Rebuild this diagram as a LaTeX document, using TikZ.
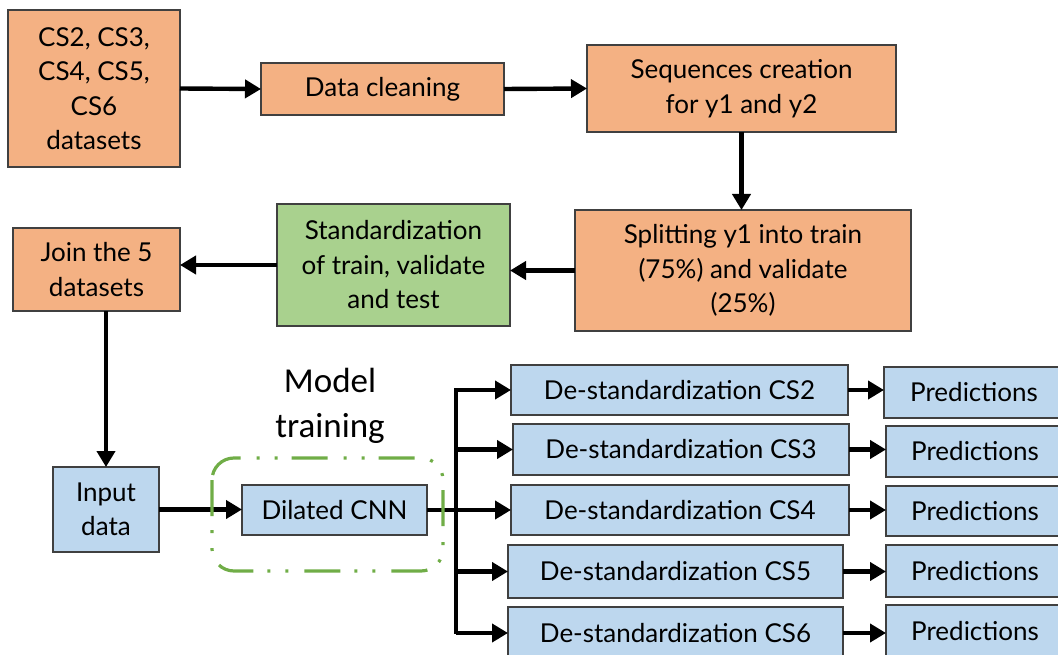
\documentclass[tikz,border=0pt]{standalone}
\usepackage{fontspec}
\setmainfont{Lato}
\newfontfamily\titlefont{Carlito}
\usetikzlibrary{arrows.meta}

\definecolor{boxorange}{HTML}{F4B183}
\definecolor{boxblue}{HTML}{BDD7EE}
\definecolor{boxgreen}{HTML}{A9D18E}
\definecolor{groupgreen}{HTML}{70AD47}

\tikzset{
  basebox/.style={draw=black!75, line width=1.3pt, inner sep=0pt, outer sep=0pt,
    align=center, anchor=north west},
  obox/.style={basebox, fill=boxorange},
  bbox/.style={basebox, fill=boxblue},
  gbox/.style={basebox, fill=boxgreen},
  link/.style={line width=4.4pt, draw=black},
  arr/.style={link, -{Triangle[length=16pt,width=18pt]}},
  groupframe/.style={draw=groupgreen, line width=3.2pt, rounded corners=22pt,
    dash pattern=on 36pt off 14pt on 3pt off 15pt on 3pt off 16pt},
}

\begin{document}
\begin{tikzpicture}[x=1pt, y=-1pt, font=\fontsize{26}{34.5}\selectfont]
\useasboundingbox (0,0) rectangle (1058,655);

% preprocessing chain
\node[obox, minimum width=172, minimum height=157] (cs) at (8,10)
  {CS2, CS3,\\CS4, CS5,\\CS6\\datasets};
\node[obox, minimum width=243, minimum height=52] (clean) at (261,63) {Data cleaning};
\node[obox, minimum width=309, minimum height=87] (seq) at (587,45)
  {Sequences creation\\for y1 and y2};
\node[obox, minimum width=336, minimum height=121] (split) at (575,210)
  {Splitting y1 into train\\(75\%) and validate\\(25\%)};
\node[gbox, minimum width=233, minimum height=122] (std) at (277,204)
  {Standardization\\of train, validate\\and test};
\node[obox, minimum width=167, minimum height=83] (join) at (13,228)
  {Join the 5\\datasets};

% model
\node[bbox, minimum width=106, minimum height=85] (input) at (53,467) {Input\\data};
\node[bbox, minimum width=185, minimum height=50] (cnn) at (242,485) {Dilated CNN};
\node[font=\titlefont\fontsize{35}{45}\selectfont, align=center] (mt) at (330,406)
  {Model\\training};

% outputs
\node[bbox, minimum width=337, minimum height=50] (ds2) at (511,365) {De-standardization CS2};
\node[bbox, minimum width=336, minimum height=51] (ds3) at (513,424) {De-standardization CS3};
\node[bbox, minimum width=338, minimum height=50] (ds4) at (511,485) {De-standardization CS4};
\node[bbox, minimum width=335, minimum height=53] (ds5) at (508,545) {De-standardization CS5};
\node[bbox, minimum width=335, minimum height=52] (ds6) at (508,607) {De-standardization CS6};

\node[bbox, minimum width=180, minimum height=51] (pr2) at (884,367) {Predictions};
\node[bbox, minimum width=178, minimum height=51] (pr3) at (886,426) {Predictions};
\node[bbox, minimum width=178, minimum height=50] (pr4) at (886,486) {Predictions};
\node[bbox, minimum width=178, minimum height=52] (pr5) at (886,545) {Predictions};
\node[bbox, minimum width=178, minimum height=52] (pr6) at (886,605) {Predictions};

% connectors of the preprocessing chain
\draw[arr] (cs.east) -- (clean.west);
\draw[arr] (clean.east) -- (seq.west);
\draw[arr] (seq.south) -- (seq.south |- split.north);
\draw[arr] (split.west) -- (split.west -| std.east);
\draw[arr] (std.west) -- (std.west -| join.east);
\draw[arr] (input.north |- join.south) -- (input.north);
\draw[arr] (input.east) -- (input.east -| cnn.west);

% fan-out to the per-dataset outputs
\coordinate (ttop) at (456,390);
\coordinate (tbot) at (456,632);
\draw[link] (cnn.east) -- (cnn.east -| ttop);
\draw[link, line cap=rect] (ttop) -- (tbot);
\foreach \n in {2,...,6}{
  \draw[arr] (ttop |- ds\n.west) -- (ds\n.west);
  \draw[arr] (ds\n.east) -- (ds\n.east -| pr\n.west);
}

% model training group
\draw[groupframe] (212,458) rectangle (443,571);
\end{tikzpicture}
\end{document}
